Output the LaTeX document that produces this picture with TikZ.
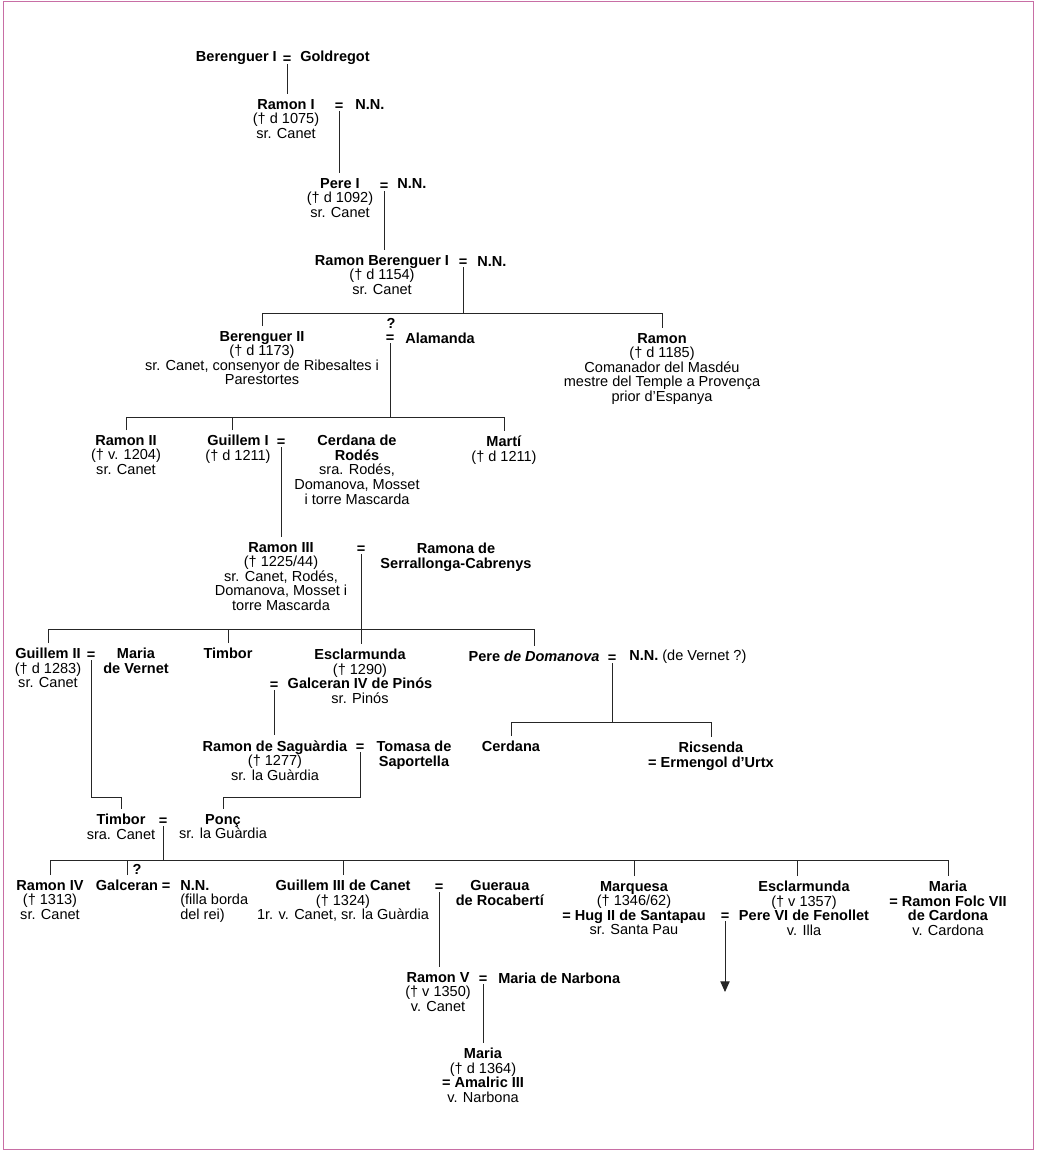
\documentclass[tikz,border=0pt]{standalone}
\usepackage{fontspec}
\setmainfont{Liberation Sans}
\usepackage{tikz}
\usetikzlibrary{arrows.meta}
\definecolor{framepink}{RGB}{200,110,165}
\newcommand{\treefont}{\fontsize{10.9}{10.9}\selectfont}

\begin{document}
\begin{tikzpicture}[
	x=0.75pt, y=-0.75pt,
	person/.style={font=\treefont, align=center, inner sep=0pt, outer ysep=4pt, anchor=north},
	spouse/.style={font=\treefont\bfseries, inner sep=0pt, anchor=west},
	eqsign/.style={font=\treefont\bfseries, inner sep=0pt},
	qmark/.style={font=\treefont\bfseries, inner sep=0pt},
	kin/.style={draw=black!85, line width=0.7pt},
	contarrow/.style={-{Triangle[width=7pt,length=8pt]}}
]
\useasboundingbox (0,0) rectangle (1040,1152);
\draw[framepink, line width=1.2pt] (3.5,1.5) rectangle (1033.5,1149.5);

% Berenguer I and his line down to Ramon Berenguer I
\node[spouse, anchor=east] (berI) at (277,58) {Berenguer I};
\node[eqsign] (e0) at (287,60) {=};
\node[spouse] (goldregot) at (300,58) {Goldregot};

\node[person] (ramonI) at (286,94) {\textbf{Ramon I}\\(† d 1075)\\sr. Canet};
\node[eqsign] (e1) at (339,107) {=};
\node[spouse] (nn1) at (355,105) {N.N.};

\node[person] (pereI) at (340,173) {\textbf{Pere I}\\(† d 1092)\\sr. Canet};
\node[eqsign] (e2) at (384,187) {=};
\node[spouse] (nn2) at (397,184) {N.N.};

\node[person] (ramonBer) at (382,250) {\textbf{Ramon Berenguer I}\\(† d 1154)\\sr. Canet};
\node[eqsign] (e3) at (463,263) {=};
\node[spouse] (nn3) at (477,261) {N.N.};
\coordinate (bar1) at (0,313);

% Berenguer II and Ramon
\node[person] (berII) at (262,326) {\textbf{Berenguer II}\\(† d 1173)\\sr. Canet, consenyor de Ribesaltes i\\Parestortes};
\node[qmark] (q1) at (391,323) {?};
\node[eqsign] (e4) at (390,339) {=};
\node[spouse] (alamanda) at (405,338) {Alamanda};
\node[person] (ramonT) at (662,328) {\textbf{Ramon}\\(† d 1185)\\Comanador del Masdéu\\mestre del Temple a Provença\\prior d’Espanya};
\coordinate (bar2) at (0,417);

% children of Berenguer II
\node[person] (ramonII) at (126,430) {\textbf{Ramon II}\\(† v. 1204)\\sr. Canet};
\node[person] (guillemI) at (238,430) {\textbf{Guillem I}\\(† d 1211)};
\node[eqsign] (e5) at (281,443) {=};
\node[person] (cerdanaR) at (357,430) {\textbf{Cerdana de}\\\textbf{Rodés}\\sra. Rodés,\\Domanova, Mosset\\i torre Mascarda};
\node[person] (marti) at (504,431) {\textbf{Martí}\\(† d 1211)};

% Ramon III
\node[person] (ramonIII) at (281,537) {\textbf{Ramon III}\\(† 1225/44)\\sr. Canet, Rodés,\\Domanova, Mosset i\\torre Mascarda};
\node[eqsign] (e6) at (361,550) {=};
\node[person] (ramona) at (456,538) {\textbf{Ramona de}\\\textbf{Serrallonga-Cabrenys}};
\coordinate (bar3) at (0,629);

% children of Ramon III
\node[person] (guillemII) at (48,643) {\textbf{Guillem II}\\(† d 1283)\\sr. Canet};
\node[eqsign] (e7) at (91,656) {=};
\node[person] (mariaV) at (136,643) {\textbf{Maria}\\\textbf{de Vernet}};
\node[person] (timborI) at (228,643) {\textbf{Timbor}};
\node[person] (esclI) at (360,644) {\textbf{Esclarmunda}\\(† 1290)\\\textbf{Galceran IV de Pinós}\\sr. Pinós};
\node[eqsign] (e8) at (274,686) {=};
\node[person] (pereD) at (534,646) {\textbf{Pere \textit{de Domanova}}};
\node[eqsign] (e9) at (612,659) {=};
\node[spouse] (nnD) at (629,657) {N.N. \textmd{(de Vernet ?)}};
\coordinate (bar5) at (0,722);

\node[person] (cerdana) at (511,736) {\textbf{Cerdana}};
\node[person] (ricsenda) at (711,737) {\textbf{Ricsenda}\\\textbf{= Ermengol d’Urtx}};

\node[person] (ramonS) at (275,735) {\textbf{Ramon de Saguàrdia}\\(† 1277)\\sr. la Guàrdia};
\node[eqsign] (e10) at (360,748) {=};
\node[person] (tomasa) at (414,736) {\textbf{Tomasa de}\\\textbf{Saportella}};
\coordinate (lvl9) at (0,797);

% Timbor and Ponç
\node[person] (timborII) at (121,809) {\textbf{Timbor}\\sra. Canet};
\node[eqsign] (e11) at (163,822) {=};
\node[person] (ponc) at (223,809) {\textbf{Ponç}\\sr. la Guàrdia};
\coordinate (bar4) at (0,860);

% their children
\node[person] (ramonIV) at (50,875) {\textbf{Ramon IV}\\(† 1313)\\sr. Canet};
\node[person] (galceran) at (127,875) {\textbf{Galceran}};
\node[qmark] (q2) at (137,869) {?};
\node[eqsign] (e12) at (166,887) {=};
\node[person, align=left, anchor=north west] (nnG) at (180,875) {\textbf{N.N.}\\(filla borda\\del rei)};
\node[person] (guillemIII) at (343,875) {\textbf{Guillem III de Canet}\\(† 1324)\\1r. v. Canet, sr. la Guàrdia};
\node[eqsign] (e13) at (439,888) {=};
\node[person] (gueraua) at (500,875) {\textbf{Gueraua}\\\textbf{de Rocabertí}};
\node[person] (marquesa) at (634,876) {\textbf{Marquesa}\\(† 1346/62)\\\textbf{= Hug II de Santapau}\\sr. Santa Pau};
\node[eqsign] (e14) at (725,917) {=};
\node[person] (esclII) at (804,876) {\textbf{Esclarmunda}\\(† v 1357)\\\textbf{Pere VI de Fenollet}\\v. Illa};
\node[person] (mariaC) at (948,876) {\textbf{Maria}\\\textbf{= Ramon Folc VII}\\\textbf{de Cardona}\\v. Cardona};
\coordinate (cont) at (725,992);

% Ramon V and Maria
\node[person] (ramonV) at (438,967) {\textbf{Ramon V}\\(† v 1350)\\v. Canet};
\node[eqsign] (e15) at (483,980) {=};
\node[spouse] (narbona) at (498,978) {Maria de Narbona};
\node[person] (mariaN) at (483,1043) {\textbf{Maria}\\(† d 1364)\\\textbf{= Amalric III}\\v. Narbona};

% descent lines
\draw[kin] (e0.south) -- (e0.south |- ramonI.north);
\draw[kin] (e1.south) -- (e1.south |- pereI.north);
\draw[kin] (e2.south) -- (e2.south |- ramonBer.north);
\draw[kin] (e3.south) -- (e3.south |- bar1);
\draw[kin] (berII.north) |- (bar1 -| ramonT.north) -- (ramonT.north);
\draw[kin] (e4.south) -- (e4.south |- bar2);
\draw[kin] (ramonII.north) |- (bar2 -| marti.north) -- (marti.north);
\draw[kin] ([xshift=-4pt]guillemI.north) -- ([xshift=-4pt]guillemI.north |- bar2);
\draw[kin] (e5.south) -- (e5.south |- ramonIII.north);
\draw[kin] (e6.south) -- (e6.south |- esclI.north);
\draw[kin] (guillemII.north) |- (bar3 -| pereD.north) -- (pereD.north);
\draw[kin] (timborI.north) -- (timborI.north |- bar3);
\draw[kin] (e8.south) -- (e8.south |- ramonS.north);
\draw[kin] (e9.south) -- (e9.south |- bar5);
\draw[kin] (cerdana.north) |- (bar5 -| ricsenda.north) -- (ricsenda.north);
\draw[kin] (e7.south) -- (e7.south |- lvl9) -| (timborII.north);
\draw[kin] (e10.south) -- (e10.south |- lvl9) -| (ponc.north);
\draw[kin] (e11.south) -- (e11.south |- bar4);
\draw[kin] (ramonIV.north) |- (bar4 -| mariaC.north) -- (mariaC.north);
\foreach \kid in {galceran, guillemIII, marquesa}
	\draw[kin] (\kid.north) -- (\kid.north |- bar4);
\draw[kin] ([xshift=-5pt]esclII.north) -- ([xshift=-5pt]esclII.north |- bar4);
\draw[kin] (e13.south) -- (e13.south |- ramonV.north);
\draw[kin, contarrow] (e14.south) -- (cont);
\draw[kin] (e15.south) -- (e15.south |- mariaN.north);

\end{tikzpicture}
\end{document}
